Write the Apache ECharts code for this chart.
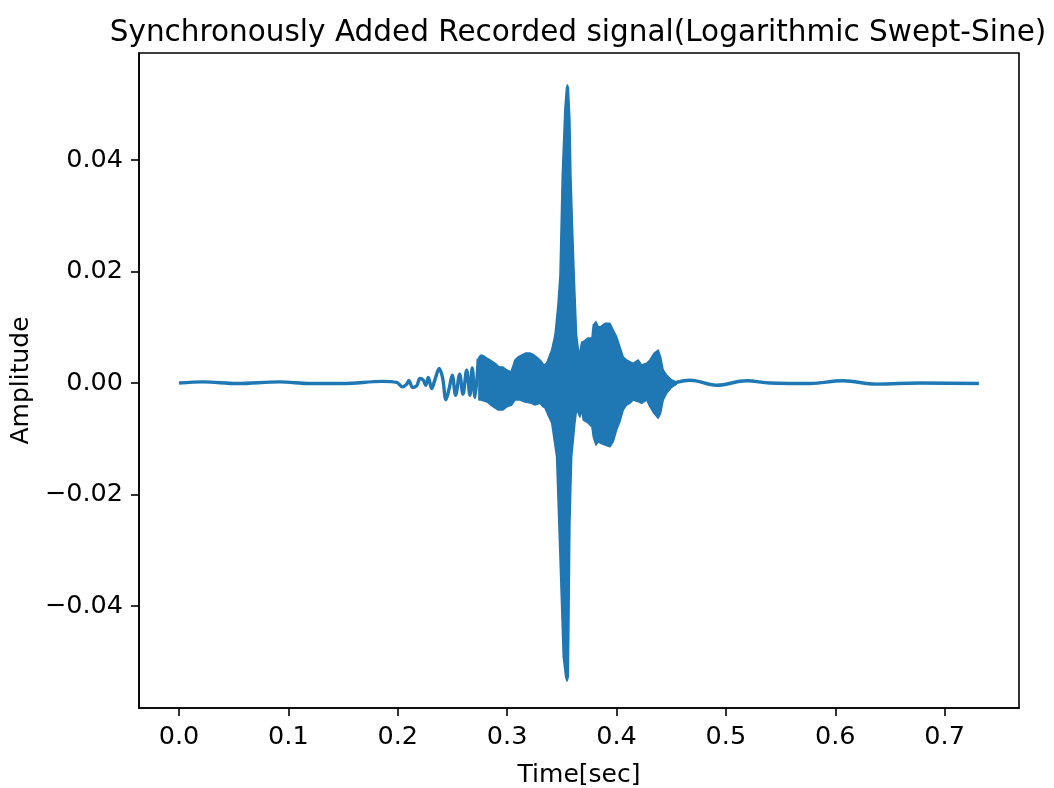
<!DOCTYPE html>
<html><head><meta charset="utf-8">
<script src="https://cdn.jsdelivr.net/npm/echarts@6.0.0/dist/echarts.min.js"></script>
<style>html,body{margin:0;padding:0;background:#fff}#c{width:1054px;height:788px}</style>
</head><body><div id="c"></div>
<script>
const titleText = 'Synchronously Added Recorded signal(Logarithmic Swept-Sine)';
const xTicks = [0, 0.1, 0.2, 0.3, 0.4, 0.5, 0.6, 0.7];
const yTicks = [-0.04, -0.02, 0, 0.02, 0.04];

// leading (sparse, individually visible oscillations)
const headT = [0.000, 0.022, 0.053, 0.092, 0.120, 0.150, 0.186, 0.199, 0.2045, 0.2081, 0.2102, 0.2136, 0.2173, 0.2203, 0.2233, 0.2255, 0.2279, 0.2310, 0.2340, 0.2379, 0.2410, 0.2441, 0.2471, 0.2498, 0.2529, 0.2566, 0.2596, 0.2630, 0.2660, 0.2681, 0.2706, 0.2736];
const headV = [0.0000, 0.0002, -0.0001, 0.0002, -0.0001, -0.0001, 0.0003, 0.0001, -0.0007, -0.0002, 0.0004, -0.0008, -0.0005, 0.0008, 0.0005, -0.0004, 0.0010, -0.0010, 0.0006, 0.0026, 0.0009, -0.0030, -0.0009, 0.0014, -0.0022, 0.0016, -0.0020, 0.0023, -0.0022, 0.0027, -0.0026, 0.0044];

// dense oscillating part: upper and lower envelope
const upperT = [0.2742, 0.2761, 0.2788, 0.2815, 0.2843, 0.2870, 0.2898, 0.2925, 0.2962, 0.2998, 0.3035, 0.3071, 0.3099, 0.3135, 0.3172, 0.3208, 0.3245, 0.3282, 0.3309, 0.3336, 0.3361, 0.3382, 0.3407, 0.3437, 0.3464, 0.3483, 0.3504, 0.3528, 0.3542, 0.3551, 0.3560, 0.3574, 0.3583, 0.3599, 0.3613, 0.3635, 0.3652, 0.3665, 0.3681, 0.3696, 0.3739, 0.3775, 0.3787, 0.3812, 0.3833, 0.3855, 0.3894, 0.3940, 0.3970, 0.4001, 0.4031, 0.4061, 0.4092, 0.4122, 0.4153, 0.4198, 0.4229, 0.4275, 0.4305, 0.4342, 0.4381, 0.4403, 0.4427, 0.4458, 0.4504, 0.4549];
const upperV = [0.00466, 0.00502, 0.00484, 0.00448, 0.00413, 0.00377, 0.00341, 0.00292, 0.00287, 0.00233, 0.00197, 0.00413, 0.00466, 0.00502, 0.00538, 0.00538, 0.00502, 0.00448, 0.00395, 0.00323, 0.00359, 0.00466, 0.00592, 0.00861, 0.01399, 0.01937, 0.03731, 0.04933, 0.05291, 0.05345, 0.05291, 0.04717, 0.03731, 0.02744, 0.01937, 0.00861, 0.00592, 0.00556, 0.00735, 0.00741, 0.00807, 0.00807, 0.01040, 0.01100, 0.01010, 0.01010, 0.01071, 0.01071, 0.00951, 0.00831, 0.00651, 0.00472, 0.00413, 0.00382, 0.00353, 0.00413, 0.00323, 0.00353, 0.00413, 0.00533, 0.00592, 0.00472, 0.00233, 0.00143, 0.00054, 0.00018];
const lowerT = [0.2742, 0.2761, 0.2815, 0.2870, 0.2916, 0.2962, 0.2998, 0.3041, 0.3071, 0.3117, 0.3163, 0.3224, 0.3254, 0.3300, 0.3327, 0.3346, 0.3373, 0.3407, 0.3452, 0.3483, 0.3513, 0.3535, 0.3547, 0.3559, 0.3565, 0.3574, 0.3590, 0.3620, 0.3635, 0.3650, 0.3665, 0.3681, 0.3696, 0.3739, 0.3775, 0.3787, 0.3812, 0.3833, 0.3855, 0.3894, 0.3940, 0.3970, 0.4001, 0.4031, 0.4061, 0.4092, 0.4122, 0.4153, 0.4198, 0.4229, 0.4275, 0.4305, 0.4342, 0.4381, 0.4403, 0.4427, 0.4458, 0.4504, 0.4549];
const lowerV = [-0.00305, -0.00305, -0.00341, -0.00425, -0.00484, -0.00484, -0.00425, -0.00395, -0.00305, -0.00305, -0.00341, -0.00364, -0.00395, -0.00364, -0.00425, -0.00448, -0.00574, -0.00717, -0.01327, -0.03121, -0.04915, -0.05274, -0.05345, -0.05274, -0.04305, -0.02511, -0.01327, -0.00717, -0.00484, -0.00538, -0.00610, -0.00484, -0.00664, -0.00717, -0.00789, -0.00963, -0.01112, -0.01053, -0.01082, -0.01112, -0.01143, -0.01053, -0.00843, -0.00694, -0.00484, -0.00395, -0.00364, -0.00305, -0.00335, -0.00364, -0.00305, -0.00425, -0.00544, -0.00633, -0.00544, -0.00305, -0.00185, -0.00077, -0.00018];

// trailing decay
const tailT = [0.4549, 0.4671, 0.4915, 0.5189, 0.5402, 0.5768, 0.6072, 0.6377, 0.6773, 0.7313];
const tailV = [0.0001, 0.0005, -0.0004, 0.0004, 0.0000, -0.0001, 0.0004, -0.0002, 0.0000, -0.0001];

const zip = (a, b) => a.map((t, i) => [t, b[i]]);
const COLOR = '#1f77b4';
const FONT = 'DejaVu Sans';
const chart = echarts.init(document.getElementById('c'), null, {renderer: 'canvas'});
const fmtY = v => (v < -1e-9 ? '\u2212' : '') + Math.abs(v).toFixed(2);

chart.setOption({
  animation: false,
  backgroundColor: '#fff',
  title: {
    text: titleText, left: 578, top: 18, textAlign: 'center', padding: 0,
    textStyle: {fontFamily: FONT, fontSize: 29.5, fontWeight: 'normal', color: '#000'}
  },
  grid: {left: 139, right: 35, top: 53, bottom: 80, show: true, borderColor: '#000', borderWidth: 1.6,
         backgroundColor: '#fff', containLabel: false, outerBoundsMode: 'none'},
  xAxis: {
    type: 'value', min: -0.0366, max: 0.768,
    name: 'Time[sec]', nameLocation: 'middle', nameGap: 55,
    nameTextStyle: {fontFamily: FONT, fontSize: 25, color: '#000'},
    axisLine: {show: true, onZero: false, lineStyle: {color: '#000', width: 1.6}},
    axisTick: {show: true, length: 8, lineStyle: {color: '#000', width: 1.6}, customValues: xTicks},
    axisLabel: {customValues: xTicks, formatter: v => v.toFixed(1), fontFamily: FONT, fontSize: 25.5, color: '#000', margin: 16},
    splitLine: {show: false}
  },
  yAxis: {
    type: 'value', min: -0.0583, max: 0.0592,
    name: 'Amplitude', nameLocation: 'middle', nameGap: 99, nameRotate: 90,
    nameTextStyle: {fontFamily: FONT, fontSize: 25, color: '#000'},
    axisLine: {show: true, onZero: false, lineStyle: {color: '#000', width: 1.6}},
    axisTick: {show: true, length: 8, lineStyle: {color: '#000', width: 1.6}, customValues: yTicks},
    axisLabel: {customValues: yTicks, formatter: fmtY, fontFamily: FONT, fontSize: 25.5, color: '#000', margin: 16},
    splitLine: {show: false}
  },
  series: [
    {type: 'line', data: zip(headT, headV), showSymbol: false, symbol: 'none', smooth: 0.35,
     lineStyle: {color: COLOR, width: 3.4}, clip: true},
    {type: 'custom', data: [[0.36, 0]], clip: true,
     renderItem: function (params, api) {
       const pts = [];
       for (let i = 0; i < upperT.length; i++) pts.push(api.coord([upperT[i], upperV[i]]));
       for (let i = lowerT.length - 1; i >= 0; i--) pts.push(api.coord([lowerT[i], lowerV[i]]));
       return {type: 'polygon', shape: {points: pts}, style: {fill: COLOR, stroke: COLOR, lineWidth: 1.5, lineJoin: 'round'}};
     }},
    {type: 'line', data: zip(tailT, tailV), showSymbol: false, symbol: 'none', smooth: 0.4,
     lineStyle: {color: COLOR, width: 3.4}, clip: true}
  ]
});
</script>
</body></html>
